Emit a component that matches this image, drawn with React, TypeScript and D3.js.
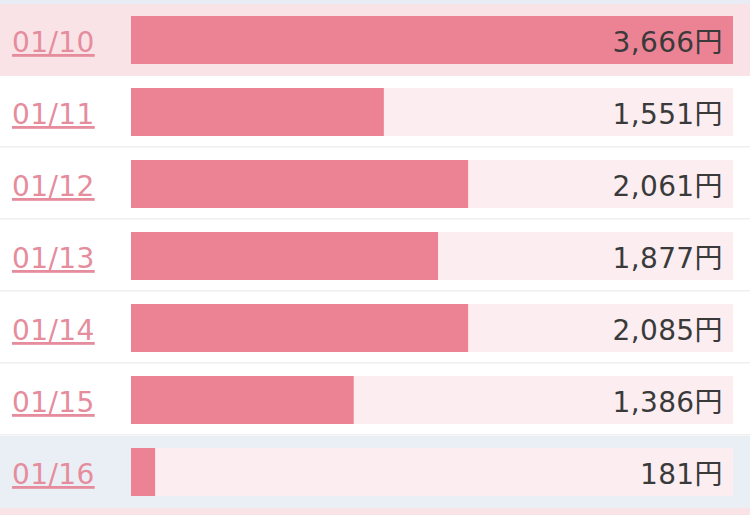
import React from "react";
import * as d3 from "d3";

// Daily sales
const dates = ["01/10", "01/11", "01/12", "01/13", "01/14", "01/15", "01/16"];
const amounts = [3666, 1551, 2061, 1877, 2085, 1386, 181];
// Row highlight: "peak" for the best day, "today" for the current day
const highlights = ["peak", "", "", "", "", "", "today"];

const W = 750;
const H = 515;

export default function App() {
  const max = d3.max(amounts) ?? 1;
  const y = d3.scaleBand<string>().domain(dates).range([4, 508]).padding(0);
  // bar widths are whole percentages of the best day
  const x = d3.scaleLinear().domain([0, 100]).range([131, 733]);
  const pct = (v: number) => Math.floor((v / max) * 100);
  const fmt = d3.format(",");
  const rowH = y.bandwidth();
  const fontFamily = "'DejaVu Sans', Verdana, 'Noto Sans CJK JP', sans-serif";

  return (
    <svg
      width={W}
      height={H}
      style={{ position: "fixed", top: 0, left: 0, background: "#ffffff" }}
    >
      <rect x={0} y={0} width={W} height={4} fill="#e8ecf4" />
      <rect x={0} y={508} width={W} height={H - 508} fill="#f9e3e6" />
      {dates.map((d, i) => {
        const top = y(d)!;
        const bg =
          highlights[i] === "peak" ? "#f9e3e6" : highlights[i] === "today" ? "#eaeef5" : "#ffffff";
        return (
          <g key={d}>
            <rect x={0} y={top} width={W} height={rowH} fill={bg} />
            {highlights[i] === "" && (
              <rect x={0} y={top + rowH - 2} width={W} height={1.5} fill="#efefef" />
            )}
            <rect x={x(0)} y={top + 12} width={x(100) - x(0)} height={48} fill="#fcedf0" />
            <rect
              x={x(0)}
              y={top + 12}
              width={x(pct(amounts[i])) - x(0)}
              height={48}
              fill="#ec8394"
            />
            <text
              x={12}
              y={top + 48}
              fontFamily={fontFamily}
              fontSize={28}
              letterSpacing={0.4}
              fill="#e58c9d"
              style={{ textDecoration: "underline" }}
            >
              {d}
            </text>
            <text
              x={723}
              y={top + 48}
              textAnchor="end"
              fontFamily={fontFamily}
              fontSize={28}
              letterSpacing={0.4}
              fill="#3a3a3a"
            >
              {fmt(amounts[i])}円
            </text>
          </g>
        );
      })}
    </svg>
  );
}
